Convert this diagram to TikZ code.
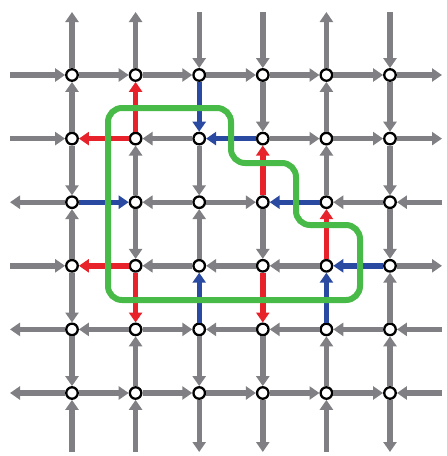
\documentclass[tikz,border=0pt]{standalone}
\usetikzlibrary{arrows.meta}
\definecolor{eg}{RGB}{128,128,132}
\definecolor{er}{RGB}{232,34,42}
\definecolor{eb}{RGB}{42,74,162}
\definecolor{cg}{RGB}{72,186,72}
\tikzset{
  vtx/.style={circle,draw=black,fill=white,line width=2.3pt,minimum size=11.5pt,inner sep=0pt},
  ge/.style={draw=eg,line width=5.4pt,-{Triangle[length=10pt,width=13pt]}},
  re/.style={ge,draw=er},
  be/.style={ge,draw=eb},
  cut/.style={draw=cg,line width=6pt,rounded corners=14pt}
}
\begin{document}
\begin{tikzpicture}[x=1pt,y=-1pt]
\useasboundingbox (0,0) rectangle (447,456);
\foreach \i in {0,...,5}{
  \coordinate (t\i) at ({72+63.6*\i},12);
  \coordinate (b\i) at ({72+63.6*\i},452);
  \coordinate (l\i) at (10,{75+63.6*\i});
  \coordinate (r\i) at (442,{75+63.6*\i});
  \foreach \j in {0,...,5}{
    \node[vtx] (n\i\j) at ({72+63.6*\i},{75+63.6*\j}) {};
  }
}
% row 0
\draw[ge] (l0) -- (n00); \draw[ge] (n00) -- (n10); \draw[ge] (n10) -- (n20);
\draw[ge] (n20) -- (n30); \draw[ge] (n30) -- (n40); \draw[ge] (n40) -- (n50);
\draw[ge] (n50) -- (r0);
% row 1
\draw[ge] (l1) -- (n01); \draw[re] (n11) -- (n01); \draw[ge] (n21) -- (n11);
\draw[be] (n31) -- (n21); \draw[ge] (n31) -- (n41); \draw[ge] (n41) -- (n51);
\draw[ge] (n51) -- (r1);
% row 2
\draw[ge] (n02) -- (l2); \draw[be] (n02) -- (n12); \draw[ge] (n22) -- (n12);
\draw[ge] (n22) -- (n32); \draw[be] (n42) -- (n32); \draw[ge] (n52) -- (n42);
\draw[ge] (r2) -- (n52);
% row 3
\draw[ge] (l3) -- (n03); \draw[re] (n13) -- (n03); \draw[ge] (n23) -- (n13);
\draw[ge] (n33) -- (n23); \draw[ge] (n43) -- (n33); \draw[be] (n53) -- (n43);
\draw[ge] (n53) -- (r3);
% row 4
\draw[ge] (n04) -- (l4); \draw[ge] (n14) -- (n04); \draw[ge] (n14) -- (n24);
\draw[ge] (n34) -- (n24); \draw[ge] (n44) -- (n34); \draw[ge] (n54) -- (n44);
\draw[ge] (r4) -- (n54);
% row 5
\draw[ge] (n05) -- (l5); \draw[ge] (n05) -- (n15); \draw[ge] (n15) -- (n25);
\draw[ge] (n25) -- (n35); \draw[ge] (n35) -- (n45); \draw[ge] (n45) -- (n55);
\draw[ge] (r5) -- (n55);
% column 0
\draw[ge] (n00) -- (t0); \draw[ge] (n01) -- (n00); \draw[ge] (n01) -- (n02);
\draw[ge] (n03) -- (n02); \draw[ge] (n03) -- (n04); \draw[ge] (n04) -- (n05);
\draw[ge] (b0) -- (n05);
% column 1
\draw[ge] (n10) -- (t1); \draw[re] (n11) -- (n10); \draw[ge] (n12) -- (n11);
\draw[ge] (n12) -- (n13); \draw[re] (n13) -- (n14); \draw[ge] (n15) -- (n14);
\draw[ge] (b1) -- (n15);
% column 2
\draw[ge] (t2) -- (n20); \draw[be] (n20) -- (n21); \draw[ge] (n21) -- (n22);
\draw[ge] (n23) -- (n22); \draw[be] (n24) -- (n23); \draw[ge] (n24) -- (n25);
\draw[ge] (n25) -- (b2);
% column 3
\draw[ge] (t3) -- (n30); \draw[ge] (n30) -- (n31); \draw[re] (n32) -- (n31);
\draw[ge] (n32) -- (n33); \draw[re] (n33) -- (n34); \draw[ge] (n34) -- (n35);
\draw[ge] (n35) -- (b3);
% column 4
\draw[ge] (n40) -- (t4); \draw[ge] (n41) -- (n40); \draw[ge] (n42) -- (n41);
\draw[re] (n43) -- (n42); \draw[be] (n44) -- (n43); \draw[ge] (n45) -- (n44);
\draw[ge] (b4) -- (n45);
% column 5
\draw[ge] (t5) -- (n50); \draw[ge] (n50) -- (n51); \draw[ge] (n51) -- (n52);
\draw[ge] (n52) -- (n53); \draw[ge] (n54) -- (n53); \draw[ge] (n55) -- (n54);
\draw[ge] (n55) -- (b5);
% cut
\draw[cut] (108,108) -- (231,108) -- (231,163) -- (296,163) -- (296,225)
  -- (360,225) -- (360,300) -- (108,300) -- cycle;
\end{tikzpicture}
\end{document}
